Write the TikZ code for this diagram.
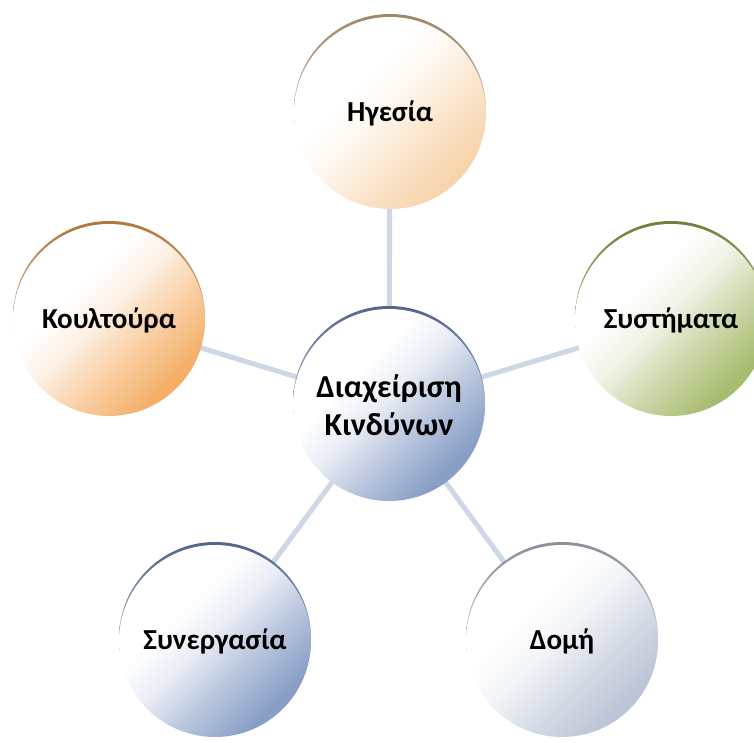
\documentclass[tikz,border=0pt]{standalone}
\usepackage{fontspec}
\setmainfont{Carlito}
\usetikzlibrary{backgrounds}
\definecolor{linkblue}{RGB}{205,215,229}
\definecolor{peach}{RGB}{248,212,172}
\definecolor{peachrim}{RGB}{160,134,104}
\definecolor{apricot}{RGB}{244,174,104}
\definecolor{apricotrim}{RGB}{176,118,58}
\definecolor{olive}{RGB}{168,188,112}
\definecolor{oliverim}{RGB}{108,128,58}
\definecolor{steel}{RGB}{136,158,198}
\definecolor{steelrim}{RGB}{80,100,140}
\definecolor{mist}{RGB}{188,197,214}
\definecolor{mistrim}{RGB}{138,144,156}
% diagonal fill: full tint at the lower right, white towards the upper left
\pgfdeclareverticalshading[tint]{bubble}{100bp}{color(0bp)=(tint); color(27bp)=(tint); color(40bp)=(tint!60!white); color(52bp)=(tint!18!white); color(62bp)=(white); color(100bp)=(white)}
\begin{document}
\begin{tikzpicture}[x=1pt,y=1pt,
  link/.style={line width=5pt, draw=linkblue},
  ball/.style={circle, minimum size=192pt, inner sep=0pt, align=center,
    font=\bfseries\fontsize{29}{36}\selectfont,
    /utils/exec={\colorlet{tint}{#1}}, shading=bubble, shading angle=45},
  rim/.style={top color=#1, bottom color=white, middle color=#1!55!white}]
\useasboundingbox (0,0) rectangle (754,743);

\node[ball=steel, font=\bfseries\fontsize{32}{38}\selectfont]
                    (hub)  at (389,338) {Διαχείριση\\Κινδύνων};
\node[ball=peach]   (lead) at (390,630) {Ηγεσία};
\node[ball=apricot] (cult) at (109,423) {Κουλτούρα};
\node[ball=olive]   (sys)  at (671,423) {Συστήματα};
\node[ball=steel]   (coop) at (215,102) {Συνεργασία};
\node[ball=mist]    (struc) at (562,102) {Δομή};

\begin{pgfonlayer}{background}
  \foreach \n in {lead,cult,sys,coop,struc}
    \draw[link] (hub.center) -- (\n.center);
  % darker rim along the upper edge of each circle
  \path[rim=steelrim]   ([yshift=3pt]hub.center)  circle (96pt);
  \path[rim=peachrim]   ([yshift=3pt]lead.center) circle (96pt);
  \path[rim=apricotrim] ([yshift=3pt]cult.center) circle (96pt);
  \path[rim=oliverim]   ([yshift=3pt]sys.center)  circle (96pt);
  \path[rim=steelrim]   ([yshift=3pt]coop.center) circle (96pt);
  \path[rim=mistrim]    ([yshift=3pt]struc.center) circle (96pt);
\end{pgfonlayer}
\end{tikzpicture}
\end{document}
